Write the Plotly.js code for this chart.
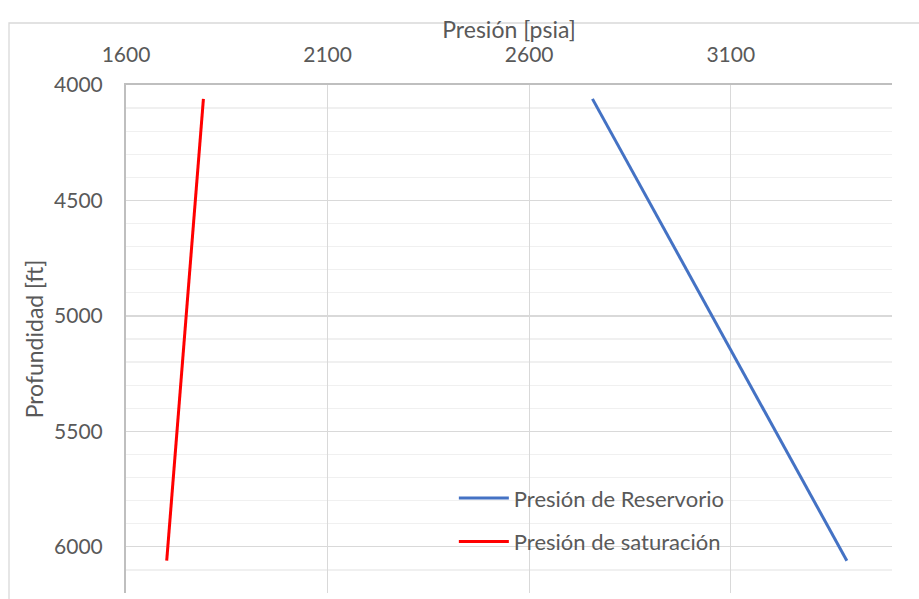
<!DOCTYPE html>
<html>
<head>
<meta charset="utf-8">
<script src="https://cdn.plot.ly/plotly-3.0.1.min.js"></script>
<style>html,body{margin:0;padding:0;background:#fff;}#chart{width:919px;height:599px;}</style>
</head>
<body>
<div id="chart"></div>
<script>
// Data
const seriesNames = ["Presión de Reservorio", "Presión de saturación"];
const reservorioPresion = [2757, 3388];
const reservorioProf = [4060, 6060];
const saturacionPresion = [1792, 1701];
const saturacionProf = [4060, 6060];
const xTicks = [1600, 2100, 2600, 3100];
const yTicks = [4000, 4500, 5000, 5500, 6000];

const fontFam = "Lato, 'Open Sans', 'Liberation Sans', sans-serif";
const gray = "#595959";

const traces = [
  {x: reservorioPresion, y: reservorioProf, name: seriesNames[0], mode: "lines",
   legendgroup: "a", line: {color: "#4472C4", width: 3}},
  {x: saturacionPresion, y: saturacionProf, name: seriesNames[1], mode: "lines",
   legendgroup: "b", line: {color: "#FF0000", width: 3}}
];

const layout = {
  width: 919, height: 599,
  margin: {l: 126, r: 27, t: 85, b: 6},
  paper_bgcolor: "#fff", plot_bgcolor: "#fff",
  font: {family: fontFam, color: gray, size: 16},
  title: {text: "Presión [psia]", font: {size: 23, color: gray},
          x: 509 / 919, xanchor: "center", xref: "container",
          y: 1 - 30 / 599, yanchor: "middle", yref: "container"},
  showlegend: true,
  legend: {x: 0.428, y: 0.228, xanchor: "left", yanchor: "top", bgcolor: "rgba(0,0,0,0)",
           font: {size: 22, color: gray}, tracegroupgap: 12, itemwidth: 50},
  xaxis: {
    side: "top", range: [1600, 3500], tickvals: xTicks, ticktext: xTicks.map(String),
    showgrid: true, gridcolor: "#d9d9d9", gridwidth: 1.3,
    showline: true, linecolor: "#bfbfbf", linewidth: 2,
    ticks: "", ticklabelstandoff: 13, zeroline: false,
    tickfont: {size: 21, color: gray}
  },
  yaxis: {
    range: [6200, 4000], tickvals: yTicks, ticktext: yTicks.map(String),
    showgrid: true, gridcolor: "#d9d9d9", gridwidth: 1.3,
    minor: {dtick: 100, tick0: 4000, showgrid: true, gridcolor: "#f0f0f0", gridwidth: 1.3, ticks: ""},
    showline: true, linecolor: "#bfbfbf", linewidth: 2,
    ticks: "", ticklabelstandoff: 17, zeroline: false,
    tickfont: {size: 21, color: gray},
    title: {text: "Profundidad [ft]", font: {size: 23, color: gray}, standoff: 4}
  },
  shapes: [
    {type: "rect", xref: "paper", yref: "paper",
     x0: (9 - 126) / 766, x1: 1.3, y0: -0.3, y1: 1 + 62 / 508,
     line: {color: "#d9d9d9", width: 1.3}, fillcolor: "rgba(0,0,0,0)", layer: "below"}
  ]
};

Plotly.newPlot("chart", traces, layout, {displayModeBar: false, staticPlot: true});
</script>
</body>
</html>
